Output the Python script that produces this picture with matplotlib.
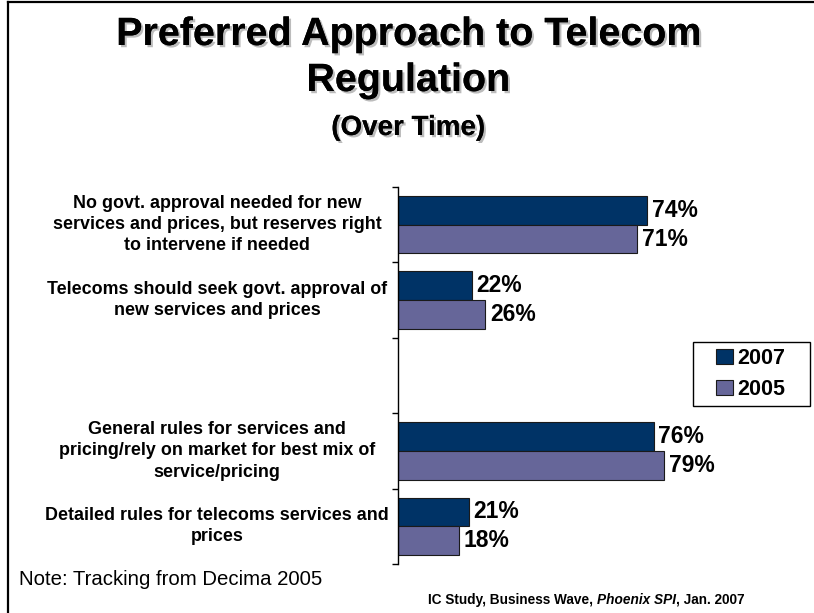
import matplotlib
matplotlib.use("Agg")
import matplotlib.pyplot as plt
import matplotlib.patheffects as pe
from matplotlib.patches import Patch, Rectangle
from matplotlib.lines import Line2D
import numpy as np

plt.rcParams['font.family'] = ['Liberation Sans', 'DejaVu Sans']

# Survey statements (an empty slot separates the two question pairs)
categories = [
    "No govt. approval needed for new\nservices and prices, but reserves right\nto intervene if needed",
    "Telecoms should seek govt. approval of\nnew services and prices",
    "",
    "General rules for services and\npricing/rely on market for best mix of\nservice/pricing",
    "Detailed rules for telecoms services and\nprices",
]
values_2007 = [74, 22, None, 76, 21]
values_2005 = [71, 26, None, 79, 18]
series_names = ["2007", "2005"]
colors = ["#003366", "#666699"]

W, H = 814, 613
fig = plt.figure(figsize=(W / 100, H / 100), dpi=100)

def fx(px):
    return px / W

def fy(py):
    return 1 - py / H

# frame lines along the top and left edges
fig.add_artist(Line2D([fx(8), fx(814)], [fy(1.5), fy(1.5)], color="black", lw=1.6))
fig.add_artist(Line2D([fx(8), fx(8)], [fy(1.5), fy(613)], color="black", lw=1.6))

# title with a soft drop shadow
shadow = [pe.withSimplePatchShadow(offset=(1.6, -1.6), shadow_rgbFace="#909090", alpha=0.6),
          pe.Normal()]

def title_line(y, s, size):
    fig.text(fx(408), fy(y), s, fontsize=size, fontweight="bold",
             ha="center", va="baseline", color="black", path_effects=shadow)

title_line(45, "Preferred Approach to Telecom", 28.4)
title_line(91, "Regulation", 28.4)
title_line(135, "(Over Time)", 20)

ax = fig.add_axes([fx(398), fy(564), fx(734.5) - fx(398), fy(187) - fy(564)])
n = len(categories)
y = np.arange(n)
bar_h = 0.38
offset = 0.19

for i in range(n):
    for vals, dy, c in ((values_2007, -offset, colors[0]), (values_2005, offset, colors[1])):
        v = vals[i]
        if v is None:
            continue
        ax.barh(y[i] + dy, v, height=bar_h, color=c, edgecolor="#1a1a1a", linewidth=0.8)
        ax.text(v + 1.4, y[i] + dy, f"{v}%", fontsize=16.5, fontweight="bold",
                ha="left", va="center")

ax.set_xlim(0, 100)
ax.set_ylim(n - 0.5, -0.5)
for s in ("top", "right", "bottom"):
    ax.spines[s].set_visible(False)
ax.spines["left"].set_linewidth(1.0)
ax.set_xticks([])
ax.set_yticks(np.arange(-0.5, n, 1.0))
ax.set_yticklabels([])
ax.tick_params(axis="y", direction="out", length=4, width=1.0)

# category labels, centred in the space left of the axis
for i, lab in enumerate(categories):
    if lab:
        fig.text(fx(217), ax.transData.transform((0, y[i]))[1] / H, lab,
                 fontsize=12.9, fontweight="bold", ha="center", va="center",
                 multialignment="center", linespacing=1.32)

# legend: boxed, with generous side padding
fig.add_artist(Rectangle((fx(693), fy(406)), fx(810) - fx(693), fy(342) - fy(406),
                         transform=fig.transFigure, facecolor="white",
                         edgecolor="black", linewidth=1.0, zorder=5))
handles = [Patch(facecolor=c, edgecolor="#1a1a1a", linewidth=0.8) for c in colors]
leg = fig.legend(handles, series_names, loc="upper left",
                 bbox_to_anchor=(fx(716), fy(348)), frameon=False,
                 prop={"weight": "bold", "size": 15.5}, handlelength=0.8,
                 handleheight=0.7, handletextpad=0.2, borderpad=0,
                 labelspacing=0.45, borderaxespad=0)
leg.set_zorder(6)

fig.text(fx(19), fy(585), "Note: Tracking from Decima 2005", fontsize=14.7,
         ha="left", va="baseline")

# source line with an italic publication name
fs_src = 9.8
t1 = fig.text(fx(428), fy(604), "IC Study, Business Wave, ", fontsize=fs_src,
              fontweight="bold", ha="left", va="baseline")
t2 = fig.text(0, 0, "Phoenix SPI", fontsize=fs_src, fontweight="bold", style="italic",
              va="baseline")
t3 = fig.text(0, 0, ", Jan. 2007", fontsize=fs_src, fontweight="bold", va="baseline")
fig.canvas.draw()
r = fig.canvas.get_renderer()
bb = t1.get_window_extent(r)
t2.set_position((bb.x1 / W, fy(604)))
fig.canvas.draw()
bb2 = t2.get_window_extent(r)
t3.set_position((bb2.x1 / W, fy(604)))

fig.savefig("out.png", dpi=100, facecolor="white")
